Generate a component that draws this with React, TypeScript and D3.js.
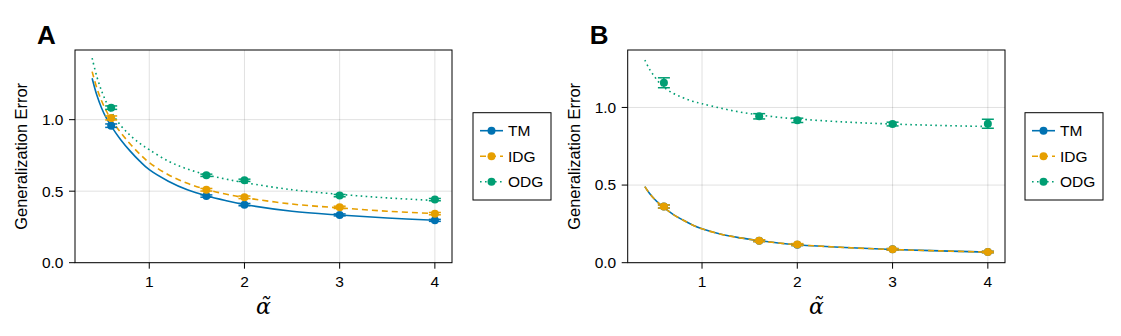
import React from "react";
import * as d3 from "d3";

const W = 1121;
const H = 336;

const blue = "#0072B2";
const orange = "#E69F00";
const green = "#009E73";

// theory curves, sampled by eye
const alphaCurve = [0.4, 0.45, 0.5, 0.55, 0.6, 0.7, 0.8, 0.9, 1.0, 1.2, 1.4, 1.6, 1.8, 2, 2.5, 3, 3.5, 4];
const curveA_TM = [1.29, 1.17, 1.08, 1.01, 0.955, 0.86, 0.78, 0.71, 0.65, 0.57, 0.51, 0.468, 0.435, 0.407, 0.36, 0.333, 0.312, 0.297];
const curveA_IDG = [1.336, 1.22, 1.13, 1.06, 1.0, 0.91, 0.83, 0.76, 0.7, 0.615, 0.555, 0.512, 0.48, 0.455, 0.41, 0.383, 0.36, 0.343];
const curveA_ODG = [1.43, 1.3, 1.2, 1.12, 1.055, 0.96, 0.89, 0.835, 0.79, 0.71, 0.655, 0.615, 0.585, 0.56, 0.51, 0.478, 0.453, 0.435];
const curveB_TM = [0.49, 0.445, 0.41, 0.38, 0.355, 0.31, 0.275, 0.243, 0.218, 0.183, 0.16, 0.142, 0.127, 0.116, 0.098, 0.085, 0.076, 0.068];
const curveB_IDG = [0.49, 0.445, 0.41, 0.38, 0.355, 0.31, 0.275, 0.243, 0.218, 0.183, 0.16, 0.142, 0.127, 0.116, 0.098, 0.085, 0.076, 0.068];
const curveB_ODG = [1.305, 1.245, 1.2, 1.16, 1.13, 1.09, 1.063, 1.04, 1.024, 0.995, 0.97, 0.952, 0.937, 0.926, 0.906, 0.893, 0.884, 0.877];

// simulation points with error bars
const alphaPts = [0.6, 1.6, 2, 3, 4];
const ptsA_TM = [0.958, 0.466, 0.406, 0.334, 0.296];
const errA_TM = [0.012, 0.008, 0.008, 0.007, 0.007];
const ptsA_IDG = [1.012, 0.51, 0.457, 0.387, 0.343];
const errA_IDG = [0.014, 0.009, 0.009, 0.008, 0.008];
const ptsA_ODG = [1.084, 0.611, 0.576, 0.469, 0.441];
const errA_ODG = [0.012, 0.008, 0.008, 0.008, 0.008];
const ptsB_TM = [0.362, 0.142, 0.116, 0.086, 0.069];
const errB_TM = [0.01, 0.006, 0.006, 0.005, 0.005];
const ptsB_IDG = [0.362, 0.142, 0.117, 0.086, 0.069];
const errB_IDG = [0.01, 0.006, 0.006, 0.005, 0.005];
const ptsB_ODG = [1.159, 0.943, 0.917, 0.893, 0.895];
const errB_ODG = [0.032, 0.017, 0.014, 0.012, 0.029];

const xTicks = [1, 2, 3, 4];
const yTicks = [0, 0.5, 1.0];
const seriesNames = ["TM", "IDG", "ODG"];
const colors = [blue, orange, green];
const dashes = ["none", "6 4", "1.6 3.4"];

const font = "'Liberation Sans', Arial, sans-serif";

type PanelProps = {
  letter: string;
  left: number;
  right: number;
  yMax: number;
  curves: number[][];
  pts: number[][];
  errs: number[][];
  legendX: number;
};

function Panel({ letter, left, right, yMax, curves, pts, errs, legendX }: PanelProps) {
  const top = 50;
  const bottom = 262.7;
  const x = d3.scaleLinear().domain([0.22, 4.18]).range([left, right]);
  const y = d3.scaleLinear().domain([0, yMax]).range([bottom, top]);
  const line = d3
    .line<number>()
    .x((_, i) => x(alphaCurve[i]))
    .y((d) => y(d))
    .curve(d3.curveCatmullRom);

  return (
    <g>
      <text x={left - 38} y={44} fontFamily={font} fontWeight="bold" fontSize={26}>
        {letter}
      </text>
      {xTicks.map((t) => (
        <line key={"gx" + t} x1={x(t)} x2={x(t)} y1={top} y2={bottom} stroke="#000" strokeOpacity={0.12} />
      ))}
      {yTicks.map((t) => (
        <line key={"gy" + t} x1={left} x2={right} y1={y(t)} y2={y(t)} stroke="#000" strokeOpacity={0.12} />
      ))}
      {curves.map((c, i) => (
        <path
          key={"c" + i}
          d={line(c) || ""}
          fill="none"
          stroke={colors[i]}
          strokeWidth={1.6}
          strokeDasharray={dashes[i]}
        />
      ))}
      {pts.map((p, i) => (
        <g key={"p" + i} stroke={colors[i]} fill={colors[i]}>
          {p.map((v, j) => {
            const cx = x(alphaPts[j]);
            const e = errs[i][j];
            return (
              <g key={j}>
                <line x1={cx} x2={cx} y1={y(v - e)} y2={y(v + e)} strokeWidth={1.5} />
                <line x1={cx - 6} x2={cx + 6} y1={y(v - e)} y2={y(v - e)} strokeWidth={1.5} />
                <line x1={cx - 6} x2={cx + 6} y1={y(v + e)} y2={y(v + e)} strokeWidth={1.5} />
                <circle cx={cx} cy={y(v)} r={4} stroke="none" />
              </g>
            );
          })}
        </g>
      ))}
      <rect x={left} y={top} width={right - left} height={bottom - top} fill="none" stroke="#000" strokeWidth={1} />
      {xTicks.map((t) => (
        <g key={"tx" + t}>
          <line x1={x(t)} x2={x(t)} y1={bottom} y2={bottom + 6} stroke="#000" />
          <text x={x(t)} y={bottom + 24} textAnchor="middle" fontFamily={font} fontSize={15.5}>
            {t}
          </text>
        </g>
      ))}
      {yTicks.map((t) => (
        <g key={"ty" + t}>
          <line x1={left - 6} x2={left} y1={y(t)} y2={y(t)} stroke="#000" />
          <text x={left - 11.5} y={y(t)} dy="0.35em" textAnchor="end" fontFamily={font} fontSize={15.5}>
            {d3.format(".1f")(t)}
          </text>
        </g>
      ))}
      <text
        transform={`translate(${left - 48},${(top + bottom) / 2}) rotate(-90)`}
        textAnchor="middle"
        fontFamily={font}
        fontSize={16.4}
      >
        Generalization Error
      </text>
      <text
        x={(left + right) / 2}
        y={314}
        textAnchor="middle"
        fontFamily="'DejaVu Serif', serif"
        fontStyle="italic"
        fontSize={22}
      >
        α̃
      </text>
      <rect x={legendX} y={112.7} width={78} height={87.3} fill="#fff" stroke="#000" strokeWidth={1} />
      {seriesNames.map((n, i) => {
        const ly = 130.7 + i * 25.5;
        return (
          <g key={n}>
            <line
              x1={legendX + 7}
              x2={legendX + 30}
              y1={ly}
              y2={ly}
              stroke={colors[i]}
              strokeWidth={1.6}
              strokeDasharray={dashes[i]}
            />
            <circle cx={legendX + 18.5} cy={ly} r={4} fill={colors[i]} />
            <text x={legendX + 35} y={ly} dy="0.35em" fontFamily={font} fontSize={15.5}>
              {n}
            </text>
          </g>
        );
      })}
    </g>
  );
}

export default function App() {
  return (
    <svg width={W} height={H} style={{ position: "absolute", left: 0, top: 0, background: "#fff" }}>
      <Panel
        letter="A"
        left={75}
        right={452}
        yMax={1.487}
        curves={[curveA_TM, curveA_IDG, curveA_ODG]}
        pts={[ptsA_TM, ptsA_IDG, ptsA_ODG]}
        errs={[errA_TM, errA_IDG, errA_ODG]}
        legendX={473}
      />
      <Panel
        letter="B"
        left={627.7}
        right={1005}
        yMax={1.37}
        curves={[curveB_TM, curveB_IDG, curveB_ODG]}
        pts={[ptsB_TM, ptsB_IDG, ptsB_ODG]}
        errs={[errB_TM, errB_IDG, errB_ODG]}
        legendX={1025}
      />
    </svg>
  );
}
